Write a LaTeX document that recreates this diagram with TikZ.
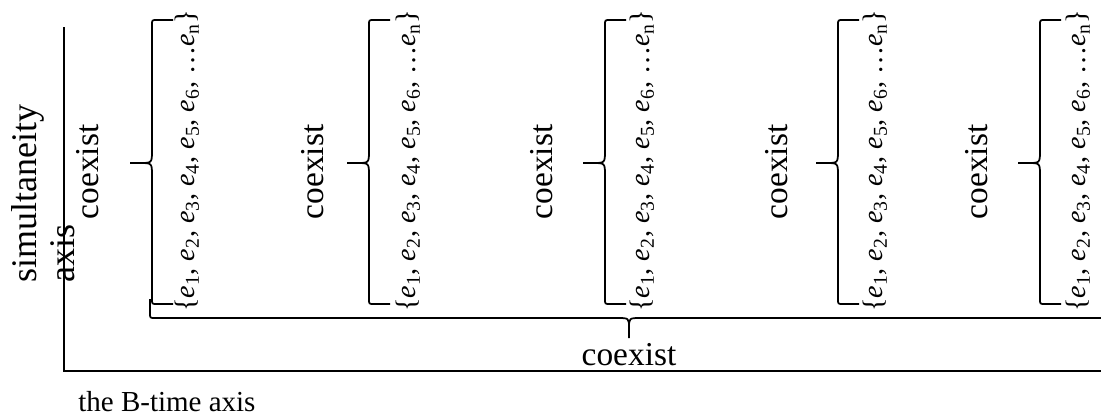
\documentclass[tikz,border=0pt]{standalone}
\usepackage{fontspec}
\setmainfont{Liberation Serif}

\newcommand{\ev}[1]{\textit{e}\textsubscript{#1}}

\begin{document}
\begin{tikzpicture}[x=0.02cm, y=-0.02cm,
	lbl/.style={font=\fontsize{19}{21.5}\selectfont, inner sep=0pt},
	evset/.style={font=\fontsize{16}{19}\selectfont, inner sep=0pt, rotate=90},
	brc/.style={line width=1pt}]
	\useasboundingbox (0,0) rectangle (1101,417);
	% axes
	\coordinate (top) at (64,27);
	\coordinate (o) at (64,371);
	\coordinate (right) at (1101,371);
	\draw[line width=1.4pt] (top) -- (o) -- (right);
	\node[lbl, font=\fontsize{20.5}{21.5}\selectfont, rotate=90, anchor=west, align=left] (yaxis) at (43,283) {simultaneity\\axis};
	\node[lbl, font=\fontsize{16.5}{20}\selectfont, anchor=base west] (xaxis) at (78,411) {the B-time axis};
	% the five sets
	\foreach \i/\cx/\lx/\tx in {1/88/152/187, 2/313/369/408, 3/542/605/642, 4/777/838/875, 5/977/1040/1078} {
		\node[lbl, rotate=90] (co\i) at (\cx,172) {coexist};
		\node[evset] (ev\i) at (\tx,161) {\{\ev{1}, \ev{2}, \ev{3}, \ev{4}, \ev{5}, \ev{6}, \ldots\ev{n}\}};
		\draw[brc] (\lx+21,304) -- (\lx+5,304) .. controls (\lx,304) .. (\lx,299) -- (\lx,176)
			.. controls (\lx,163) .. (\lx-12,163) -- (\lx-22,163) -- (\lx-12,163)
			.. controls (\lx,163) .. (\lx,150) -- (\lx,25) .. controls (\lx,20) .. (\lx+5,20) -- (\lx+21,20);
	}
	% brace over all
	\draw[brc] (150,299) -- (150,313) .. controls (150,318) .. (155,318) -- (617,318)
		.. controls (629,318) .. (629,328) -- (629,338) -- (629,328)
		.. controls (629,318) .. (641,318) -- (1103,318) .. controls (1108,318) .. (1108,313) -- (1108,299);
	\node[lbl, anchor=base] (all) at (629,365) {coexist};
\end{tikzpicture}
\end{document}
